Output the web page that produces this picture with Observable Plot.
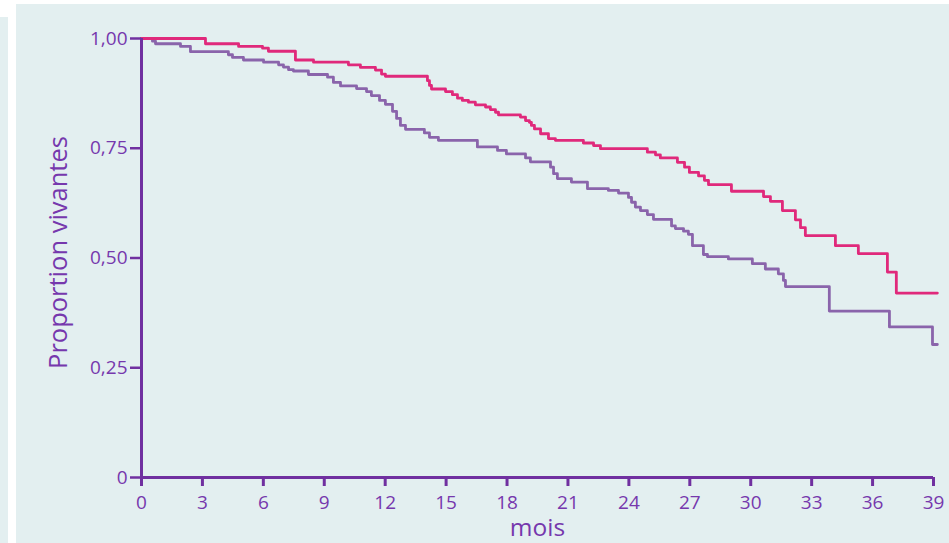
<!DOCTYPE html>
<html>
<head>
<meta charset="utf-8">
<script src="https://cdn.jsdelivr.net/npm/d3@7"></script>
<script src="https://cdn.jsdelivr.net/npm/@observablehq/plot@0.6"></script>
<style>
  html, body { margin: 0; padding: 0; background: #ffffff; }
  #wrap { position: relative; width: 949px; height: 543px; overflow: hidden; }
  .panel { position: absolute; background: #e3eff0; }
  #chart { position: absolute; left: 0; top: 0; }
  #chart svg { background: transparent !important; }
</style>
</head>
<body>
<div id="wrap">
  <div class="panel" style="left:0;top:17px;width:8px;height:526px;"></div>
  <div class="panel" style="left:16px;top:4px;width:933px;height:539px;"></div>
  <div id="chart"></div>
</div>
<script>
// Group 1 (pink curve): month of each step and survival after the step
const pinkMonths = [0, 3.15, 4.78, 5.96, 6.25, 7.58, 8.47, 10.19, 10.78, 11.52, 11.82, 12.01,
  14.08, 14.18, 14.28, 14.97, 15.31, 15.56, 15.8, 16.1, 16.44, 16.94, 17.18, 17.43, 17.58,
  18.66, 18.91, 19.1, 19.2, 19.35, 19.65, 20.04, 20.38, 21.76, 22.26, 22.6, 24.91, 25.31,
  25.55, 26.39, 26.74, 26.98, 27.43, 27.72, 27.92, 29.05, 30.63, 30.97, 31.56, 32.2, 32.45,
  32.69, 34.17, 35.3, 36.73, 37.17, 39.19];
const pinkSurv = [1.0, 0.988, 0.982, 0.978, 0.971, 0.951, 0.946, 0.940, 0.934, 0.928, 0.919, 0.914,
  0.904, 0.893, 0.885, 0.879, 0.872, 0.864, 0.859, 0.855, 0.849, 0.844, 0.838, 0.832, 0.826,
  0.821, 0.813, 0.809, 0.802, 0.794, 0.783, 0.772, 0.768, 0.762, 0.756, 0.749, 0.741, 0.735,
  0.728, 0.718, 0.707, 0.695, 0.687, 0.677, 0.667, 0.652, 0.640, 0.629, 0.608, 0.587, 0.569,
  0.551, 0.528, 0.510, 0.468, 0.420, 0.420];

// Group 2 (purple curve)
const purpleMonths = [0, 0.54, 0.69, 1.92, 2.41, 4.28, 4.48, 5.02, 6.01, 6.75, 6.99, 7.24, 7.48,
  8.22, 9.16, 9.45, 9.8, 10.59, 11.08, 11.32, 11.72, 12.01, 12.36, 12.56, 12.75, 13.0, 13.93,
  14.18, 14.62, 16.54, 17.53, 17.97, 18.91, 19.15, 20.14, 20.29, 20.48, 21.17, 21.96, 22.99,
  23.49, 23.98, 24.13, 24.32, 24.57, 24.91, 25.21, 26.1, 26.29, 26.69, 26.93, 27.13, 27.67,
  27.87, 28.9, 30.08, 30.72, 31.36, 31.61, 31.71, 33.87, 36.83, 38.95, 39.19];
const purpleSurv = [1.0, 0.994, 0.988, 0.982, 0.970, 0.963, 0.957, 0.951, 0.946, 0.940, 0.935, 0.929, 0.926,
  0.918, 0.912, 0.900, 0.892, 0.886, 0.879, 0.870, 0.859, 0.850, 0.834, 0.818, 0.802, 0.793, 0.785,
  0.775, 0.768, 0.753, 0.745, 0.737, 0.728, 0.719, 0.707, 0.692, 0.681, 0.673, 0.658, 0.654,
  0.648, 0.638, 0.627, 0.616, 0.608, 0.599, 0.588, 0.573, 0.567, 0.561, 0.554, 0.528, 0.508,
  0.503, 0.498, 0.487, 0.475, 0.464, 0.449, 0.435, 0.379, 0.343, 0.303, 0.303];

const xTicks = [0, 3, 6, 9, 12, 15, 18, 21, 24, 27, 30, 33, 36, 39];
const yTicks = [0, 0.25, 0.5, 0.75, 1];
const yTickLabels = ["0", "0,25", "0,50", "0,75", "1,00"];
const xTitle = "mois";
const yTitle = "Proportion vivantes";

const pink = pinkMonths.map((m, i) => ({month: m, surv: pinkSurv[i]}));
const purple = purpleMonths.map((m, i) => ({month: m, surv: purpleSurv[i]}));

const axisColor = "#7030a0";
const labelColor = "#7638ad";
const font = "'Open Sans', sans-serif";

const chart = Plot.plot({
  width: 949,
  height: 543,
  marginLeft: 141,
  marginRight: 16,
  marginTop: 38,
  marginBottom: 66,
  style: {background: "transparent", fontFamily: font, fontSize: "19px", overflow: "visible"},
  x: {domain: [0, 39]},
  y: {domain: [0, 1]},
  marks: [
    Plot.line(purple, {x: "month", y: "surv", curve: "step-after", stroke: "#8a64ab", strokeWidth: 2.8}),
    Plot.line(pink, {x: "month", y: "surv", curve: "step-after", stroke: "#e0297b", strokeWidth: 2.8}),
    Plot.axisX({ticks: xTicks, tickFormat: d => String(d), tickSize: 9, tickPadding: 9,
      stroke: axisColor, strokeWidth: 3, fill: labelColor, label: null, fontSize: 19}),
    Plot.axisY({ticks: yTicks, tickFormat: d => yTickLabels[yTicks.indexOf(d)], tickSize: 11, tickPadding: 3,
      stroke: axisColor, strokeWidth: 2.5, fill: labelColor, label: null, fontSize: 19}),
    Plot.ruleX([0], {stroke: axisColor, strokeWidth: 3}),
    Plot.ruleY([0], {stroke: axisColor, strokeWidth: 3}),
    Plot.text([yTitle], {x: () => -4.06, y: () => 0.5125, rotate: -90, fill: labelColor, fontSize: 25.5, clip: false}),
    Plot.text([xTitle], {frameAnchor: "bottom", dy: 58, fill: labelColor, fontSize: 24.5})
  ]
});
document.getElementById("chart").appendChild(chart);
</script>
</body>
</html>
